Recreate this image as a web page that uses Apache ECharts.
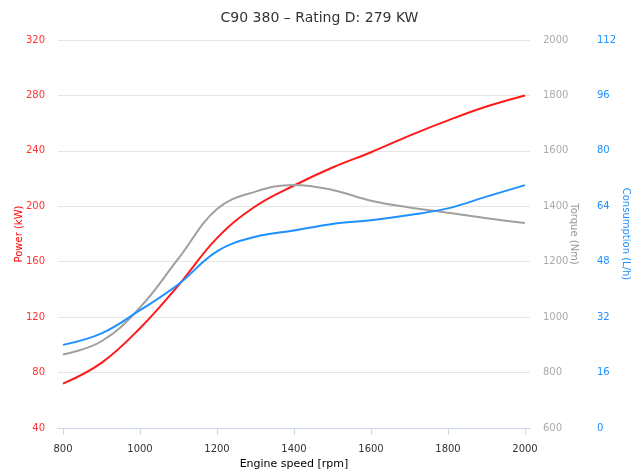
<!DOCTYPE html>
<html><head><meta charset="utf-8">
<script src="https://cdn.jsdelivr.net/npm/echarts@6/dist/echarts.min.js"></script>
<style>html,body{margin:0;padding:0;background:#fff}#c{width:639px;height:473px}</style>
</head><body><div id="c"></div>
<script>
const rpm = [800,900,1000,1100,1200,1300,1400,1500,1600,1700,1800,1900,2000];
const power = [72,87,112,143,177,200,215,228,239,251,262,272,280];
const torque = [865,913,1035,1212,1390,1453,1477,1459,1420,1396,1377,1357,1340];
const consumption = [24,27.3,34,41.5,51,55.2,57,58.9,60,61.5,63.4,66.8,70.1];
const xTicks = [800,1000,1200,1400,1600,1800,2000];
const pair = (ys) => rpm.map((x,i)=>[x,ys[i]]);
const F = 'DejaVu Sans';
const plain = v => String(v);
const chart = echarts.init(document.getElementById('c'));
chart.setOption({
  animation:false,
  textStyle:{fontFamily:F},
  title:{text:'C90 380 – Rating D: 279 KW',left:'center',top:6,textStyle:{fontFamily:F,fontSize:14,fontWeight:'normal',color:'#333'}},
  grid:{left:58,right:109,top:40,bottom:45,outerBoundsMode:'none',containLabel:false},
  xAxis:{type:'value',min:787,max:2013,name:'Engine speed [rpm]',nameLocation:'middle',nameGap:31,nameMoveOverlap:false,
    nameTextStyle:{color:'#000',fontSize:11,fontFamily:F},
    axisLine:{show:true,lineStyle:{color:'#ccd6eb'}},
    axisTick:{show:true,customValues:xTicks,length:7,lineStyle:{color:'#ccd6eb'}},
    axisLabel:{customValues:xTicks,formatter:plain,color:'#333',fontSize:10,margin:16,fontFamily:F},
    splitLine:{show:false}},
  yAxis:[
    {type:'value',min:40,max:320,interval:40,position:'left',name:'Power (kW)',nameLocation:'middle',nameGap:34,nameMoveOverlap:false,
     nameTextStyle:{color:'#ff0000',fontSize:10,fontFamily:F},
     axisLabel:{formatter:plain,color:'#ff3333',fontSize:10,margin:13,fontFamily:F},
     axisLine:{show:false},axisTick:{show:false},
     splitLine:{lineStyle:{color:'#e6e6e6'}}},
    {type:'value',min:600,max:2000,interval:200,position:'right',name:'Torque (Nm)',nameLocation:'middle',nameGap:39,nameRotate:-90,nameMoveOverlap:false,
     nameTextStyle:{color:'#999',fontSize:10,fontFamily:F},
     axisLabel:{formatter:plain,color:'#aaa',fontSize:10,margin:13,fontFamily:F},
     axisLine:{show:false},axisTick:{show:false},splitLine:{show:false}},
    {type:'value',min:0,max:112,interval:16,position:'right',offset:54,name:'Consumption (L/h)',nameLocation:'middle',nameGap:37,nameRotate:-90,nameMoveOverlap:false,
     nameTextStyle:{color:'#1e90ff',fontSize:10,fontFamily:F},
     axisLabel:{formatter:plain,color:'#1e90ff',fontSize:10,margin:13,fontFamily:F},
     axisLine:{show:false},axisTick:{show:false},splitLine:{show:false}}
  ],
  series:[
    {type:'line',name:'Power',yAxisIndex:0,data:pair(power),smooth:0.4,showSymbol:false,lineStyle:{color:'#ff1a1a',width:2},itemStyle:{color:'#ff1a1a'}},
    {type:'line',name:'Torque',yAxisIndex:1,data:pair(torque),smooth:0.4,showSymbol:false,lineStyle:{color:'#a0a0a0',width:2},itemStyle:{color:'#a0a0a0'}},
    {type:'line',name:'Consumption',yAxisIndex:2,data:pair(consumption),smooth:0.4,showSymbol:false,lineStyle:{color:'#1e90ff',width:2},itemStyle:{color:'#1e90ff'}}
  ]
});
</script></body></html>
